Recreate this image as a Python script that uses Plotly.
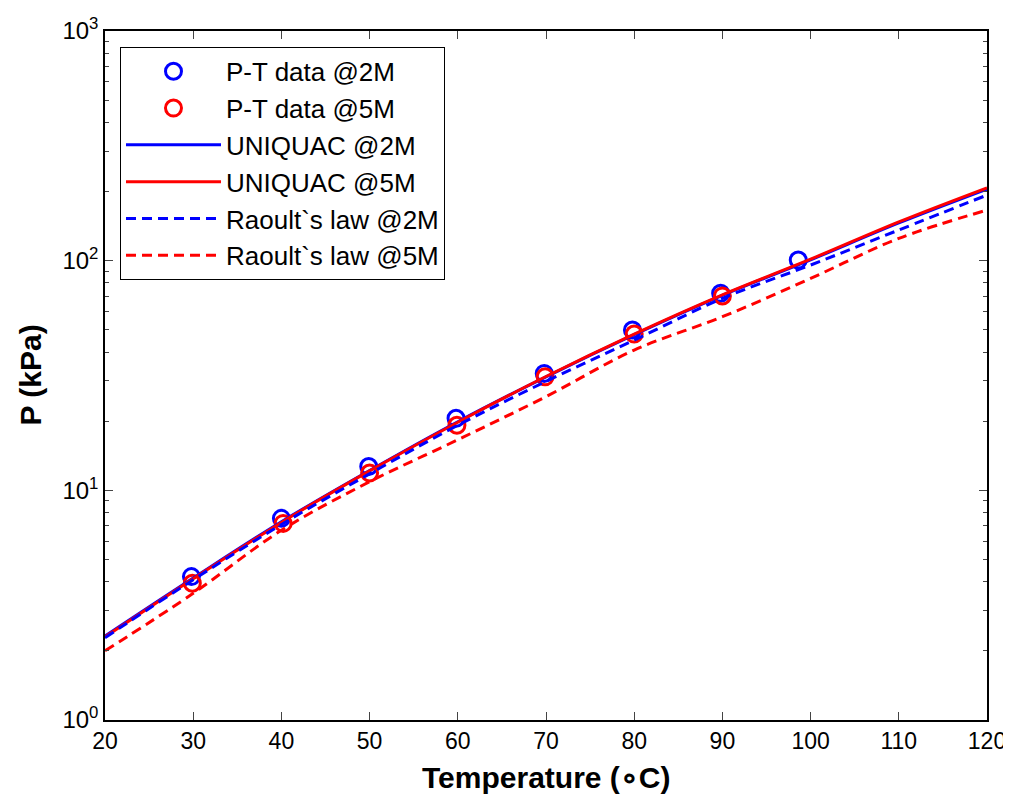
import plotly.graph_objects as go

# Experimental P-T data
T_2M = [29.8, 40.0, 49.9, 59.8, 69.8, 79.8, 89.8, 98.6]
P_2M = [4.21, 7.55, 12.7, 20.6, 32.3, 49.9, 72.1, 100.6]
T_5M = [29.9, 40.2, 50.0, 59.9, 69.9, 80.0, 90.0]
P_5M = [3.94, 7.18, 11.9, 19.2, 31.2, 47.9, 70.2]

# Model curves
T_curve = [20, 30, 40, 50, 60, 70, 80, 90, 100, 110, 120]
P_uniq_2M = [2.32, 4.15, 7.3, 12.2, 19.9, 31.2, 47.6, 70.6, 100.8, 146, 205]
P_uniq_5M = [2.30, 4.12, 7.25, 12.15, 19.8, 31.3, 47.9, 71.0, 101.5, 147.5, 207.6]
P_raoult_2M = [2.28, 4.08, 7.1, 11.8, 19.2, 29.8, 45.1, 68.5, 95.7, 136, 193]
P_raoult_5M = [2.0, 3.56, 6.7, 10.9, 16.6, 25.6, 40.8, 57.0, 83.7, 125, 166]

y_tickvals = [1, 10, 100, 1000]
y_ticktext = ["10<sup>0</sup>", "10<sup>1</sup>", "10<sup>2</sup>", "10<sup>3</sup>"]
y_minor = [m * 10 ** d for d in range(3) for m in range(2, 10)]
x_ticks = [20, 30, 40, 50, 60, 70, 80, 90, 100, 110, 120]

BLUE = "#0000FF"
RED = "#FF0000"
FONT = "Liberation Sans, Arial, sans-serif"
DASH = "10px,6px"

fig = go.Figure()
fig.add_trace(go.Scatter(x=T_2M, y=P_2M, mode="markers", name="P-T data @2M",
                         legendgroup="a",
                         marker=dict(symbol="circle-open", size=16, color=BLUE,
                                     line=dict(width=3, color=BLUE))))
fig.add_trace(go.Scatter(x=T_5M, y=P_5M, mode="markers", name="P-T data @5M",
                         legendgroup="b",
                         marker=dict(symbol="circle-open", size=16, color=RED,
                                     line=dict(width=3, color=RED))))
fig.add_trace(go.Scatter(x=T_curve, y=P_uniq_2M, mode="lines", name="UNIQUAC @2M",
                         legendgroup="c", line=dict(color=BLUE, width=3, shape="spline")))
fig.add_trace(go.Scatter(x=T_curve, y=P_uniq_5M, mode="lines", name="UNIQUAC @5M",
                         legendgroup="d", line=dict(color=RED, width=3, shape="spline")))
fig.add_trace(go.Scatter(x=T_curve, y=P_raoult_2M, mode="lines", name="Raoult`s law @2M",
                         legendgroup="e",
                         line=dict(color=BLUE, width=3, dash=DASH, shape="spline")))
fig.add_trace(go.Scatter(x=T_curve, y=P_raoult_5M, mode="lines", name="Raoult`s law @5M",
                         legendgroup="f",
                         line=dict(color=RED, width=3, dash=DASH, shape="spline")))

fig.update_layout(
    width=1003, height=789,
    margin=dict(l=97, r=24, t=23, b=77, autoexpand=False),
    paper_bgcolor="white", plot_bgcolor="white",
    font=dict(family=FONT, size=23, color="black"),
    showlegend=True,
    legend=dict(x=0.017, y=0.977, xanchor="left", yanchor="top",
                bgcolor="white", bordercolor="black", borderwidth=1,
                font=dict(size=26), tracegroupgap=0,
                itemwidth=95),
    annotations=[
        dict(text="<b>Temperature (∘C)</b>", xref="paper", yref="paper",
             x=0.5, y=-0.083, xanchor="center", yanchor="middle",
             showarrow=False, font=dict(size=30)),
        dict(text="<b>P (kPa)</b>", xref="paper", yref="paper",
             x=-0.085, y=0.5, xanchor="center", yanchor="middle", textangle=-90,
             showarrow=False, font=dict(size=30)),
    ],
)
fig.update_xaxes(
    range=[20, 120], tickvals=x_ticks, ticks="inside", ticklen=8, tickwidth=1,
    showline=True, linecolor="black", linewidth=1.5, mirror="ticks",
    showgrid=False, zeroline=False, tickfont=dict(size=23), automargin=False,
)
fig.update_yaxes(
    type="log", range=[0, 3], tickvals=y_tickvals, ticktext=y_ticktext,
    ticks="inside", ticklen=8, tickwidth=1,
    minor=dict(tickvals=y_minor, ticks="inside", ticklen=4, tickwidth=1, showgrid=False),
    showline=True, linecolor="black", linewidth=1.5, mirror="ticks",
    showgrid=False, zeroline=False, tickfont=dict(size=24), automargin=False,
)

fig.write_html("out.html")
